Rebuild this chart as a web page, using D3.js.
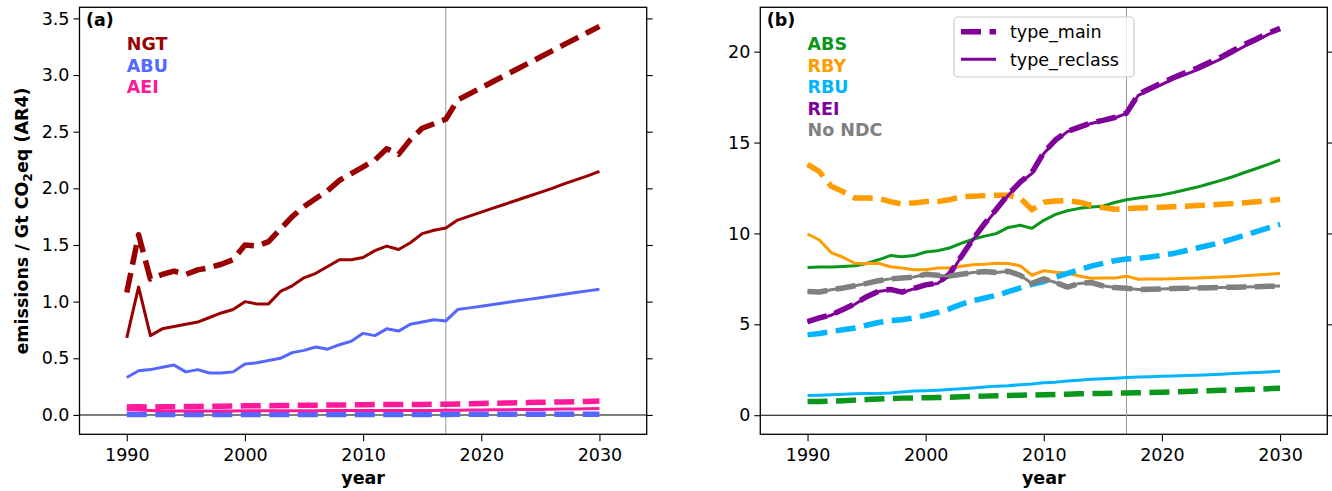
<!DOCTYPE html>
<html>
<head>
<meta charset="utf-8">
<script src="https://cdn.jsdelivr.net/npm/d3@7"></script>
<style>
  html, body { margin: 0; padding: 0; background: #fff; }
  svg { display: block; font-family: "DejaVu Sans", sans-serif; }
</style>
</head>
<body>
<svg id="chart" width="1332" height="491"></svg>
<script>
// ---------------- data ----------------
const years = d3.range(1990, 2031);

// panel (a)
const NGT_main    = [1.08,1.59,1.20,1.24,1.27,1.24,1.28,1.30,1.33,1.37,1.50,1.49,1.53,1.64,1.75,1.84,1.91,1.98,2.07,2.13,2.19,2.25,2.35,2.30,2.43,2.53,2.57,2.61,2.78,2.834,2.888,2.943,2.997,3.051,3.105,3.159,3.213,3.268,3.322,3.376,3.43];
const NGT_reclass = [0.68,1.13,0.70,0.76,0.78,0.80,0.82,0.86,0.90,0.93,1.00,0.98,0.98,1.09,1.14,1.21,1.25,1.31,1.37,1.37,1.39,1.45,1.49,1.46,1.52,1.60,1.63,1.65,1.72,1.755,1.79,1.825,1.86,1.895,1.93,1.965,2.00,2.04,2.075,2.11,2.15];
const ABU_main    = [0.003,0.003,0.003,0.003,0.003,0.003,0.003,0.003,0.003,0.003,0.004,0.004,0.004,0.004,0.004,0.004,0.004,0.004,0.004,0.004,0.004,0.004,0.004,0.004,0.004,0.004,0.004,0.004,0.005,0.005,0.005,0.005,0.005,0.005,0.005,0.005,0.005,0.005,0.005,0.005,0.005];
const ABU_reclass = [0.33,0.39,0.40,0.42,0.44,0.38,0.40,0.37,0.37,0.38,0.45,0.46,0.48,0.50,0.55,0.57,0.60,0.58,0.62,0.65,0.72,0.70,0.76,0.74,0.80,0.82,0.84,0.83,0.93,0.945,0.96,0.975,0.99,1.005,1.02,1.035,1.05,1.065,1.08,1.095,1.11];
const AEI_main    = [0.070,0.072,0.070,0.072,0.073,0.074,0.075,0.076,0.077,0.078,0.080,0.081,0.082,0.083,0.084,0.085,0.086,0.087,0.088,0.089,0.090,0.091,0.092,0.091,0.092,0.093,0.094,0.095,0.097,0.099,0.101,0.103,0.105,0.107,0.109,0.111,0.113,0.115,0.117,0.119,0.122];
const AEI_reclass = [0.045,0.043,0.040,0.036,0.035,0.035,0.035,0.035,0.035,0.035,0.036,0.036,0.036,0.036,0.037,0.037,0.037,0.038,0.038,0.038,0.038,0.039,0.039,0.039,0.040,0.040,0.040,0.041,0.042,0.043,0.044,0.045,0.046,0.047,0.048,0.049,0.050,0.052,0.053,0.055,0.057];

// panel (b)
const ABS_main    = [0.75,0.76,0.78,0.80,0.83,0.86,0.89,0.92,0.94,0.95,0.96,0.97,0.99,1.01,1.03,1.05,1.07,1.09,1.10,1.11,1.12,1.14,1.16,1.18,1.19,1.20,1.21,1.22,1.23,1.25,1.27,1.29,1.31,1.33,1.35,1.37,1.39,1.41,1.43,1.46,1.48];
const ABS_reclass = [8.12,8.15,8.15,8.18,8.22,8.35,8.55,8.78,8.72,8.78,8.98,9.05,9.20,9.45,9.68,9.85,10.00,10.33,10.45,10.28,10.72,11.05,11.25,11.38,11.45,11.50,11.70,11.85,11.95,12.03,12.12,12.25,12.40,12.55,12.73,12.92,13.12,13.35,13.57,13.80,14.04];
const RBY_main    = [13.80,13.40,12.60,12.30,11.95,11.95,11.93,11.75,11.62,11.68,11.75,11.75,11.85,12.02,12.05,12.08,12.10,12.10,11.95,11.30,11.72,11.78,11.80,11.72,11.55,11.42,11.33,11.36,11.40,11.42,11.44,11.47,11.50,11.53,11.56,11.60,11.64,11.69,11.74,11.80,11.88];
const RBY_reclass = [9.97,9.64,8.95,8.69,8.36,8.35,8.36,8.17,8.10,8.00,8.00,8.10,8.10,8.20,8.28,8.30,8.36,8.35,8.22,7.70,7.95,7.87,7.82,7.66,7.53,7.55,7.55,7.65,7.48,7.49,7.50,7.51,7.53,7.55,7.57,7.60,7.63,7.67,7.71,7.76,7.80];
const RBU_main    = [4.42,4.50,4.60,4.70,4.80,4.95,5.10,5.20,5.25,5.35,5.50,5.65,5.85,6.10,6.30,6.45,6.60,6.80,7.00,7.20,7.35,7.60,7.80,8.00,8.20,8.35,8.50,8.60,8.62,8.70,8.80,8.90,9.05,9.20,9.35,9.50,9.70,9.90,10.10,10.30,10.50];
const RBU_reclass = [1.08,1.10,1.12,1.15,1.18,1.20,1.20,1.22,1.28,1.33,1.35,1.38,1.42,1.45,1.50,1.55,1.60,1.62,1.68,1.72,1.78,1.82,1.88,1.93,1.98,2.01,2.04,2.08,2.10,2.12,2.14,2.16,2.18,2.20,2.23,2.26,2.29,2.32,2.35,2.38,2.42];
const REI_main    = [5.15,5.35,5.52,5.82,6.12,6.52,6.82,6.92,6.77,6.97,7.17,7.27,7.75,8.72,9.68,10.55,11.35,12.15,12.82,13.35,14.45,15.15,15.62,15.85,16.08,16.22,16.38,16.62,17.65,17.98,18.28,18.58,18.85,19.10,19.40,19.70,20.05,20.40,20.70,21.02,21.28];
const REI_reclass = [5.10,5.32,5.50,5.80,6.10,6.50,6.80,6.90,6.75,6.95,7.15,7.25,7.70,8.70,9.65,10.50,11.30,12.10,12.80,13.30,14.40,15.10,15.60,15.80,16.05,16.20,16.35,16.60,17.60,17.90,18.20,18.50,18.75,19.00,19.30,19.60,19.95,20.30,20.60,20.95,21.20];
const NoNDC_main    = [6.80,6.78,6.90,7.00,7.12,7.25,7.40,7.50,7.55,7.60,7.75,7.70,7.65,7.75,7.85,7.90,7.85,7.92,7.70,7.25,7.50,7.30,7.05,7.25,7.30,7.12,7.02,6.98,6.92,6.93,6.95,6.97,6.98,7.00,7.01,7.03,7.04,7.06,7.07,7.09,7.11];
const NoNDC_reclass = [6.80,6.78,6.90,7.00,7.12,7.25,7.40,7.50,7.55,7.60,7.75,7.70,7.65,7.75,7.85,7.90,7.85,7.92,7.70,7.25,7.50,7.30,7.05,7.25,7.30,7.12,7.02,6.98,6.92,6.93,6.95,6.97,6.98,7.00,7.01,7.03,7.04,7.06,7.07,7.09,7.11];

const xTicks = [1990, 2000, 2010, 2020, 2030];
const yTicksA = [0, 0.5, 1.0, 1.5, 2.0, 2.5, 3.0, 3.5];
const yTicksB = [0, 5, 10, 15, 20];
const legendLabels = ["type_main", "type_reclass"];
const markYear = 2017;

const panelA = {
  label: "(a)", ydom: [-0.171, 3.598], ticks: yTicksA, fmt: d3.format(".1f"),
  series: [
    {name: "NGT", color: "#990000", main: NGT_main, reclass: NGT_reclass},
    {name: "ABU", color: "#5468ff", main: ABU_main, reclass: ABU_reclass},
    {name: "AEI", color: "#ff1a9a", main: AEI_main, reclass: AEI_reclass}
  ]
};
const panelB = {
  label: "(b)", ydom: [-1.05, 22.44], ticks: yTicksB, fmt: d3.format("d"),
  series: [
    {name: "ABS", color: "#0b961c", main: ABS_main, reclass: ABS_reclass},
    {name: "RBY", color: "#ff9c00", main: RBY_main, reclass: RBY_reclass},
    {name: "RBU", color: "#00b4ff", main: RBU_main, reclass: RBU_reclass},
    {name: "REI", color: "#80009a", main: REI_main, reclass: REI_reclass},
    {name: "No NDC", color: "#808080", main: NoNDC_main, reclass: NoNDC_reclass}
  ]
};

// ---------------- drawing ----------------
const svg = d3.select("#chart");
const FS = 17.5;
const plotTop = 7.3, plotBottom = 434.3;
const DASH = "20,8.5";

function drawPanel(p, left, right) {
  const x = d3.scaleLinear().domain([1986, 2034]).range([left, right]);
  const y = d3.scaleLinear().domain(p.ydom).range([plotBottom, plotTop]);
  const g = svg.append("g");

  const clipId = "clip" + p.label.replace(/\W/g, "");
  svg.append("clipPath").attr("id", clipId).append("rect")
    .attr("x", left).attr("y", plotTop).attr("width", right - left).attr("height", plotBottom - plotTop);
  const plot = g.append("g").attr("clip-path", `url(#${clipId})`);

  plot.append("line").attr("x1", left).attr("x2", right)
    .attr("y1", y(0)).attr("y2", y(0)).attr("stroke", "#000").attr("stroke-width", 1.1);
  plot.append("line").attr("x1", x(markYear)).attr("x2", x(markYear))
    .attr("y1", plotTop).attr("y2", plotBottom).attr("stroke", "#999").attr("stroke-width", 1);

  const line = vals => d3.line().x((d, i) => x(years[i])).y(d => y(d))(vals);
  p.series.forEach(s => {
    plot.append("path").attr("d", line(s.main)).attr("fill", "none")
      .attr("stroke", s.color).attr("stroke-width", 5.5).attr("stroke-dasharray", DASH)
      .attr("stroke-linejoin", "round");
    plot.append("path").attr("d", line(s.reclass)).attr("fill", "none")
      .attr("stroke", s.color).attr("stroke-width", 3).attr("stroke-linejoin", "round");
  });

  const xAxis = d3.axisBottom(x).tickValues(xTicks).tickFormat(d3.format("d")).tickSize(7).tickPadding(5);
  const ax = g.append("g").attr("transform", `translate(0,${plotBottom})`).call(xAxis);
  const yAxis = d3.axisLeft(y).tickValues(p.ticks).tickFormat(p.fmt).tickSize(6).tickPadding(4);
  const ay = g.append("g").attr("transform", `translate(${left},0)`).call(yAxis);
  const yAxisR = d3.axisRight(y).tickValues(p.ticks).tickFormat("").tickSize(6);
  const ayr = g.append("g").attr("transform", `translate(${right},0)`).call(yAxisR);
  [ax, ay, ayr].forEach(a => {
    a.select(".domain").remove();
    a.selectAll("line").attr("stroke", "#000").attr("stroke-width", 1.1);
    a.selectAll("text").attr("font-size", FS).attr("fill", "#000")
      .attr("font-family", "DejaVu Sans");
  });
  ax.selectAll("text").attr("dy", null).attr("y", 27);

  g.append("rect").attr("x", left).attr("y", plotTop).attr("width", right - left).attr("height", plotBottom - plotTop)
    .attr("fill", "none").attr("stroke", "#000").attr("stroke-width", 1.3);

  g.append("text").attr("x", left + 6.5).attr("y", 25.5).attr("font-size", FS)
    .attr("font-weight", "bold").text(p.label);

  p.series.forEach((s, i) => {
    g.append("text").attr("x", x(1990)).attr("y", 50 + i * 21.5)
      .attr("font-size", FS).attr("font-weight", "bold").attr("fill", s.color).text(s.name);
  });

  g.append("text").attr("x", (left + right) / 2).attr("y", 484).attr("text-anchor", "middle")
    .attr("font-size", FS).attr("font-weight", "bold").text("year");

  return {x, y};
}

drawPanel(panelA, 79.5, 646.7);
drawPanel(panelB, 760.3, 1327.3);

const yl = svg.append("text").attr("transform", "translate(28,221) rotate(-90)")
  .attr("text-anchor", "middle").attr("font-size", FS).attr("font-weight", "bold");
yl.append("tspan").text("emissions / Gt CO");
yl.append("tspan").attr("font-size", FS * 0.7).attr("dy", 4).text("2");
yl.append("tspan").attr("dy", -4).text("eq (AR4)");

const lg = svg.append("g");
lg.append("rect").attr("x", 954).attr("y", 17).attr("width", 180).attr("height", 60)
  .attr("rx", 4).attr("fill", "#fff").attr("fill-opacity", 0.8)
  .attr("stroke", "#cccccc").attr("stroke-width", 1.2);
const legColor = panelB.series[3].color;
lg.append("line").attr("x1", 961).attr("x2", 996).attr("y1", 31.7).attr("y2", 31.7)
  .attr("stroke", legColor).attr("stroke-width", 5.5).attr("stroke-dasharray", DASH);
lg.append("line").attr("x1", 961).attr("x2", 996).attr("y1", 59.3).attr("y2", 59.3)
  .attr("stroke", legColor).attr("stroke-width", 3);
lg.append("text").attr("x", 1010).attr("y", 38).attr("font-size", FS).text(legendLabels[0]);
lg.append("text").attr("x", 1010).attr("y", 65.5).attr("font-size", FS).text(legendLabels[1]);
</script>
</body>
</html>
